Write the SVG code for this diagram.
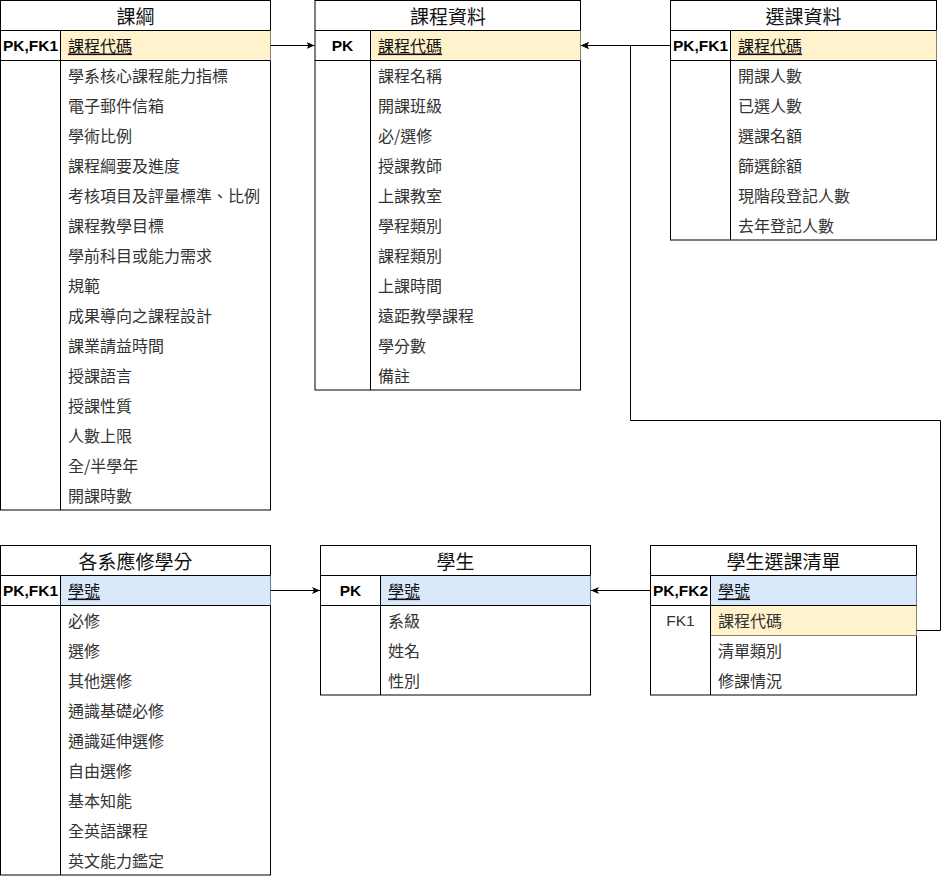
<svg xmlns="http://www.w3.org/2000/svg" width="949" height="876" viewBox="0 0 949 876">
<style>
.box{fill:#fff;stroke:#000;stroke-width:1}
.ln{stroke:#000;stroke-width:1;fill:none}
.yel{fill:#fff2cc;stroke:#8c8466;stroke-width:1}
.blu{fill:#dae8fc;stroke:#6b7a8f;stroke-width:1}
.hd{font-family:"Noto Sans CJK TC","Noto Sans CJK SC",sans-serif;font-size:19px;fill:#111;text-anchor:middle;dominant-baseline:central}
.rw{font-family:"Noto Sans CJK TC","Noto Sans CJK SC",sans-serif;font-size:16px;fill:#333;dominant-baseline:central}
.pk{text-decoration:underline;fill:#111}
.key{font-family:"Liberation Sans",Arial,sans-serif;font-size:15.5px;font-weight:bold;fill:#000;text-anchor:middle;dominant-baseline:central}
.fk{font-family:"Liberation Sans",Arial,sans-serif;font-size:15.5px;fill:#333;text-anchor:middle;dominant-baseline:central}
.con{stroke:#000;stroke-width:1;fill:none;marker-end:url(#arr)}
</style>
<defs>
<marker id="arr" markerWidth="10" markerHeight="10" refX="8" refY="4" orient="auto" markerUnits="userSpaceOnUse">
<path d="M0,0.5 L8,4 L0,7.5 L2,4 z" fill="#000"/>
</marker>
</defs>

<g id="node-kegang">
<rect class="box" x="0.5" y="0.5" width="270" height="509.5"/>
<rect class="yel" x="60.5" y="30.5" width="210" height="30"/>
<line class="ln" x1="0.5" y1="30.5" x2="270.5" y2="30.5"/>
<line class="ln" x1="0.5" y1="60.5" x2="270.5" y2="60.5"/>
<line class="ln" x1="60.5" y1="30.5" x2="60.5" y2="510"/>
<text class="hd" x="135.5" y="15">課綱</text>
<text class="key" x="30.5" y="45">PK,FK1</text>
<text class="rw pk" x="68" y="44.5">課程代碼</text>
<text class="rw" x="68" y="74.5">學系核心課程能力指標</text>
<text class="rw" x="68" y="104.5">電子郵件信箱</text>
<text class="rw" x="68" y="134.5">學術比例</text>
<text class="rw" x="68" y="164.5">課程綱要及進度</text>
<text class="rw" x="68" y="194.5">考核項目及評量標準、比例</text>
<text class="rw" x="68" y="224.5">課程教學目標</text>
<text class="rw" x="68" y="254.5">學前科目或能力需求</text>
<text class="rw" x="68" y="284.5">規範</text>
<text class="rw" x="68" y="314.5">成果導向之課程設計</text>
<text class="rw" x="68" y="344.5">課業請益時間</text>
<text class="rw" x="68" y="374.5">授課語言</text>
<text class="rw" x="68" y="404.5">授課性質</text>
<text class="rw" x="68" y="434.5">人數上限</text>
<text class="rw" x="68" y="464.5">全/半學年</text>
<text class="rw" x="68" y="494.5">開課時數</text>
</g>

<g id="node-kecheng">
<rect class="box" x="315" y="0.5" width="265.5" height="389.5"/>
<rect class="yel" x="370.5" y="30.5" width="210" height="30"/>
<line class="ln" x1="315" y1="30.5" x2="580.5" y2="30.5"/>
<line class="ln" x1="315" y1="60.5" x2="580.5" y2="60.5"/>
<line class="ln" x1="370.5" y1="30.5" x2="370.5" y2="390"/>
<text class="hd" x="448" y="15">課程資料</text>
<text class="key" x="342.5" y="45">PK</text>
<text class="rw pk" x="378" y="44.5">課程代碼</text>
<text class="rw" x="378" y="74.5">課程名稱</text>
<text class="rw" x="378" y="104.5">開課班級</text>
<text class="rw" x="378" y="134.5">必/選修</text>
<text class="rw" x="378" y="164.5">授課教師</text>
<text class="rw" x="378" y="194.5">上課教室</text>
<text class="rw" x="378" y="224.5">學程類別</text>
<text class="rw" x="378" y="254.5">課程類別</text>
<text class="rw" x="378" y="284.5">上課時間</text>
<text class="rw" x="378" y="314.5">遠距教學課程</text>
<text class="rw" x="378" y="344.5">學分數</text>
<text class="rw" x="378" y="374.5">備註</text>
</g>

<g id="node-xuanke">
<rect class="box" x="670.5" y="0.5" width="266" height="239.5"/>
<rect class="yel" x="730.5" y="30.5" width="206" height="30"/>
<line class="ln" x1="670.5" y1="30.5" x2="936.5" y2="30.5"/>
<line class="ln" x1="670.5" y1="60.5" x2="936.5" y2="60.5"/>
<line class="ln" x1="730.5" y1="30.5" x2="730.5" y2="240"/>
<text class="hd" x="803.5" y="15">選課資料</text>
<text class="key" x="700.5" y="45">PK,FK1</text>
<text class="rw pk" x="738" y="44.5">課程代碼</text>
<text class="rw" x="738" y="74.5">開課人數</text>
<text class="rw" x="738" y="104.5">已選人數</text>
<text class="rw" x="738" y="134.5">選課名額</text>
<text class="rw" x="738" y="164.5">篩選餘額</text>
<text class="rw" x="738" y="194.5">現階段登記人數</text>
<text class="rw" x="738" y="224.5">去年登記人數</text>
</g>

<g id="node-xuefen">
<rect class="box" x="0.5" y="545.5" width="270" height="329.5"/>
<rect class="blu" x="60.5" y="575.5" width="210" height="30"/>
<line class="ln" x1="0.5" y1="575.5" x2="270.5" y2="575.5"/>
<line class="ln" x1="0.5" y1="605.5" x2="270.5" y2="605.5"/>
<line class="ln" x1="60.5" y1="575.5" x2="60.5" y2="875"/>
<text class="hd" x="135.5" y="560">各系應修學分</text>
<text class="key" x="30.5" y="590">PK,FK1</text>
<text class="rw pk" x="68" y="589.5">學號</text>
<text class="rw" x="68" y="619.5">必修</text>
<text class="rw" x="68" y="649.5">選修</text>
<text class="rw" x="68" y="679.5">其他選修</text>
<text class="rw" x="68" y="709.5">通識基礎必修</text>
<text class="rw" x="68" y="739.5">通識延伸選修</text>
<text class="rw" x="68" y="769.5">自由選修</text>
<text class="rw" x="68" y="799.5">基本知能</text>
<text class="rw" x="68" y="829.5">全英語課程</text>
<text class="rw" x="68" y="859.5">英文能力鑑定</text>
</g>

<g id="node-xuesheng">
<rect class="box" x="320.5" y="545.5" width="270" height="149.5"/>
<rect class="blu" x="380.5" y="575.5" width="210" height="30"/>
<line class="ln" x1="320.5" y1="575.5" x2="590.5" y2="575.5"/>
<line class="ln" x1="320.5" y1="605.5" x2="590.5" y2="605.5"/>
<line class="ln" x1="380.5" y1="575.5" x2="380.5" y2="695"/>
<text class="hd" x="455.5" y="560">學生</text>
<text class="key" x="350.5" y="590">PK</text>
<text class="rw pk" x="388" y="589.5">學號</text>
<text class="rw" x="388" y="619.5">系級</text>
<text class="rw" x="388" y="649.5">姓名</text>
<text class="rw" x="388" y="679.5">性別</text>
</g>

<g id="node-qingdan">
<rect class="box" x="650.5" y="545.5" width="266" height="149.5"/>
<rect class="blu" x="710.5" y="575.5" width="206" height="30"/>
<rect class="yel" x="710.5" y="605.5" width="206" height="30"/>
<line class="ln" x1="650.5" y1="575.5" x2="916.5" y2="575.5"/>
<line class="ln" x1="650.5" y1="605.5" x2="916.5" y2="605.5"/>
<line class="ln" x1="710.5" y1="575.5" x2="710.5" y2="695"/>
<text class="hd" x="783.5" y="560">學生選課清單</text>
<text class="key" x="680.5" y="590">PK,FK2</text>
<text class="fk" x="680.5" y="620">FK1</text>
<text class="rw pk" x="718" y="589.5">學號</text>
<text class="rw" x="718" y="619.5">課程代碼</text>
<text class="rw" x="718" y="649.5">清單類別</text>
<text class="rw" x="718" y="679.5">修課情況</text>
</g>

<g id="connectors">
<path class="con" d="M270.5,45.5 L314.5,45.5"/>
<path class="con" d="M670.5,45.5 L581,45.5"/>
<path class="con" d="M916.5,630.5 L940.5,630.5 L940.5,420.5 L630.5,420.5 L630.5,45.5 L581,45.5"/>
<path class="con" d="M270.5,590.5 L320,590.5"/>
<path class="con" d="M650.5,590.5 L591,590.5"/>
</g>
</svg>
